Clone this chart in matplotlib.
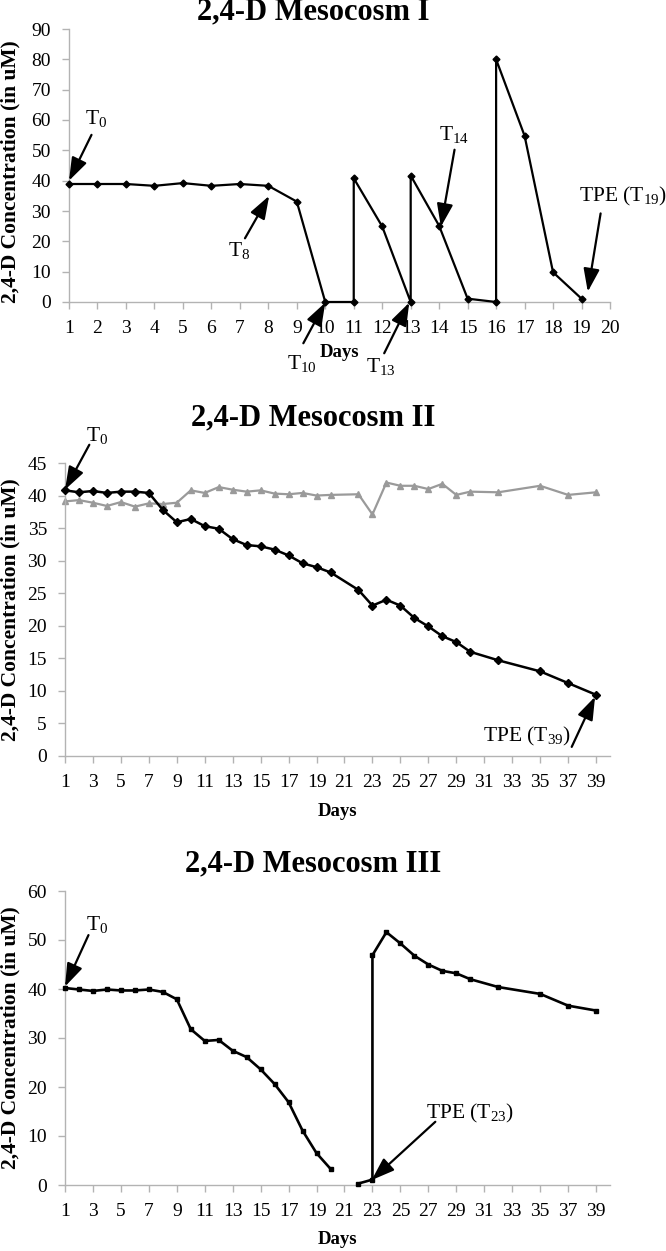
import matplotlib
matplotlib.use('Agg')
import matplotlib.pyplot as plt
import numpy as np

plt.rcParams['font.family'] = ['Liberation Serif', 'DejaVu Serif']
plt.rcParams['mathtext.fontset'] = 'custom'
plt.rcParams['mathtext.rm'] = 'Liberation Serif'
plt.rcParams['mathtext.it'] = 'Liberation Serif:italic'
plt.rcParams['mathtext.bf'] = 'Liberation Serif:bold'

# ---------------- data ----------------
# Mesocosm I (repeated days = re-dosing on the same day)
days_1 = [1, 2, 3, 4, 5, 6, 7, 8, 9, 10, 11, 11, 12, 13, 13, 14, 15, 16, 16, 17, 18, 19]
conc_1 = [38.9, 38.9, 38.9, 38.3, 39.2, 38.3, 38.9, 38.3, 33.1, 0.0, 0.0, 40.8,
          24.9, 0.0, 41.7, 25.1, 1.1, 0.0, 80.0, 54.8, 9.8, 1.1]

# Mesocosm II
days_2 = list(range(1, 21)) + list(range(22, 31)) + [32, 35, 37, 39]
conc_2_black = [40.8, 40.5, 40.7, 40.4, 40.6, 40.6, 40.4, 37.8, 35.9, 36.4,
                35.3, 34.9, 33.3, 32.4, 32.2, 31.7, 30.8, 29.6, 29.0, 28.2,
                25.5, 23.1, 24.0, 23.1, 21.2, 19.9, 18.4, 17.5, 16.0,
                14.7, 13.0, 11.2, 9.4]
conc_2_grey = [39.1, 39.3, 38.9, 38.4, 39.0, 38.3, 38.8, 38.7, 38.9, 40.8,
               40.4, 41.3, 40.9, 40.6, 40.8, 40.3, 40.2, 40.4, 40.0, 40.1,
               40.2, 37.1, 42.0, 41.5, 41.5, 41.0, 41.8, 40.1, 40.6,
               40.5, 41.5, 40.1, 40.5]

# Mesocosm III (day 21 missing -> gap; day 23 re-dosed)
days_3 = list(range(1, 22)) + [22, 23, 23] + list(range(24, 31)) + [32, 35, 37, 39]
conc_3 = [40.2, 39.9, 39.6, 39.9, 39.7, 39.7, 39.9, 39.4, 37.9, 31.8,
          29.4, 29.6, 27.4, 26.1, 23.6, 20.6, 16.9, 11.1, 6.5, 3.3, np.nan,
          0.3, 1.1, 46.9,
          51.6, 49.3, 46.8, 45.0, 43.7, 43.2, 42.0,
          40.4, 39.0, 36.6, 35.6]

titles = ['2,4-D Mesocosm I', '2,4-D Mesocosm II', '2,4-D Mesocosm III']
ylabel = '2,4-D Concentration (in uM)'
xlabel = 'Days'

# annotations: (text, text_xy, arrow_tail, arrow_tip)
ann_1 = [(r'T$_{0}$', (1.95, 60.5), (1.79, 55.1), (1.0, 40.0)),
         (r'T$_{8}$', (6.98, 17.1), (7.18, 21.0), (8.03, 35.0)),
         (r'T$_{10}$', (9.18, -20.2), (9.23, -13.6), (10.0, -0.2)),
         (r'T$_{13}$', (11.97, -21.3), (12.07, -16.9), (12.95, -0.2)),
         (r'T$_{14}$', (14.51, 55.1), (14.54, 50.2), (14.06, 24.8)),
         (r'TPE (T$_{19}$)', (20.45, 34.7), (19.67, 29.2), (19.22, 3.4))]
ann_2 = [(r'T$_{0}$', (3.29, 49.3), (2.74, 47.8), (1.0, 40.9)),
         (r'TPE (T$_{39}$)', (34.06, 3.0), (37.26, 1.4), (38.93, 9.1))]
ann_3 = [(r'T$_{0}$', (3.29, 53.1), (2.68, 51.0), (1.0, 40.5)),
         (r'TPE (T$_{23}$)', (29.95, 14.6), (27.5, 12.9), (22.94, 1.0))]

# ---------------- figure ----------------
W, H = 666, 1251
fig = plt.figure(figsize=(W / 100, H / 100), dpi=100)


def px_axes(left, right, top, bottom):
    return fig.add_axes([left / W, 1 - bottom / H, (right - left) / W, (bottom - top) / H])


ax1 = px_axes(69, 610, 29, 302)
ax2 = px_axes(65, 610, 463, 756)
ax3 = px_axes(65, 610, 891, 1185)

spine_col = '#b3b3b3'
for ax in (ax1, ax2, ax3):
    for s in ('top', 'right'):
        ax.spines[s].set_visible(False)
    for s in ('left', 'bottom'):
        ax.spines[s].set_color(spine_col)
        ax.spines[s].set_linewidth(1.0)
    ax.tick_params(axis='both', colors=spine_col, labelcolor='black', labelsize=14,
                   length=5, width=1.0, direction='out')
    ax.tick_params(axis='x', pad=8)
    ax.tick_params(axis='y', pad=8)

# Panel I
ax1.plot(days_1, conc_1, color='black', lw=1.6, marker='D', ms=3.5, clip_on=False, zorder=3)
ax1.set_xlim(1, 20)
ax1.set_ylim(0, 90)
ax1.set_xticks(range(1, 21))
ax1.set_yticks(range(0, 91, 10))

# Panel II
ax2.plot(days_2, conc_2_grey, color='#9a9a9a', lw=1.6, marker='^', ms=5, clip_on=False, zorder=2)
ax2.plot(days_2, conc_2_black, color='black', lw=1.8, marker='D', ms=4, clip_on=False, zorder=3)
ax2.set_xlim(1, 40)
ax2.set_ylim(0, 45)
ax2.set_xticks(range(1, 40, 2))
ax2.set_yticks(range(0, 46, 5))

# Panel III
ax3.plot(days_3, conc_3, color='black', lw=1.9, marker='s', ms=3.5, clip_on=False, zorder=3)
ax3.set_xlim(1, 40)
ax3.set_ylim(0, 60)
ax3.set_xticks(range(1, 40, 2))
ax3.set_yticks(range(0, 61, 10))

# titles, labels
title_y = [12, 418, 864]
ylab_y = [172, 610, 1038]
days_y = [353, 812, 1240]
for ax, t, ty, ly, dy in zip((ax1, ax2, ax3), titles, title_y, ylab_y, days_y):
    fig.text(313 / W, 1 - ty / H, t, ha='center', va='center', fontsize=22, fontweight='bold')
    fig.text(10 / W, 1 - ly / H, ylabel, ha='center', va='center', rotation=90,
             fontsize=15.5, fontweight='bold')
    bb = ax.get_position()
    fig.text(bb.x0 + bb.width / 2, 1 - dy / H, xlabel, ha='center', va='center',
             fontsize=13.5, fontweight='bold')

# annotations
for ax, anns in ((ax1, ann_1), (ax2, ann_2), (ax3, ann_3)):
    for txt, txy, tail, tip in anns:
        ax.text(txy[0], txy[1], txt, ha='center', va='center', fontsize=15.5, clip_on=False)
        ax.annotate('', xy=tip, xytext=tail, annotation_clip=False,
                    arrowprops=dict(arrowstyle='-|>,head_length=1.0,head_width=0.35',
                                    color='black', lw=1.6, mutation_scale=14,
                                    shrinkA=0, shrinkB=0))

fig.savefig('out.png', dpi=100)
